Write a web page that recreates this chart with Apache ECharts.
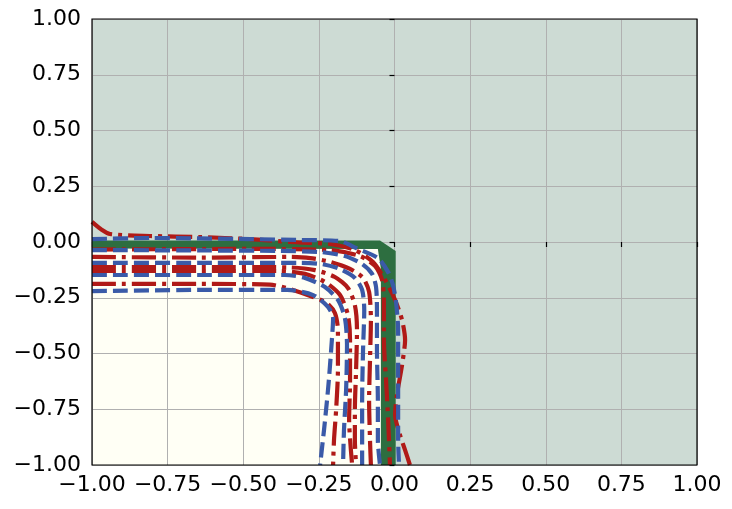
<!DOCTYPE html>
<html>
<head>
<meta charset="utf-8">
<script src="https://cdn.jsdelivr.net/npm/echarts@6/dist/echarts.min.js"></script>
<style>html,body{margin:0;padding:0;background:#fff;}#c{width:732px;height:509px;}</style>
</head>
<body>
<div id="c"></div>
<script>
// Axis ticks
const xTicks = [-1, -0.75, -0.5, -0.25, 0, 0.25, 0.5, 0.75, 1];
const yTicks = [-1, -0.75, -0.5, -0.25, 0, 0.25, 0.5, 0.75, 1];

// Filled regions (data coordinates)
const outerRegion = [[-1, -1], [1, -1], [1, 1], [-1, 1]];
const innerRegion = [[-1, -1], [-1, -0.01], [-0.05, -0.01], [0.0, -0.05], [0.0, -1]];
const greenBand = [[-1, 0.007], [-0.048, 0.007], [0.004, -0.04], [0.004, -1], [-0.045, -1], [-0.045, -0.12], [-0.055, -0.031], [-1, -0.029]];

// Contour lines (red dash-dot)
const red0 = [[-1, 0.09], [-0.971, 0.058], [-0.940, 0.036], [-0.808, 0.027], [-0.643, 0.022], [-0.478, 0.013], [-0.345, 0.0], [-0.213, -0.009], [-0.131, -0.036], [-0.071, -0.090], [-0.031, -0.170], [0.002, -0.260], [0.025, -0.350], [0.035, -0.439], [0.025, -0.551], [0.008, -0.686], [0.002, -0.776], [0.018, -0.865], [0.035, -0.933], [0.051, -1]];
const red1 = [[-1, -0.034], [-0.478, -0.031], [-0.213, -0.036], [-0.114, -0.063], [-0.064, -0.108], [-0.041, -0.170], [-0.035, -0.260], [-0.035, -0.439], [-0.028, -0.619], [-0.021, -0.798], [-0.015, -1]];
const red2 = [[-1, -0.067], [-0.643, -0.070], [-0.345, -0.067], [-0.279, -0.072], [-0.210, -0.090], [-0.147, -0.121], [-0.104, -0.161], [-0.084, -0.224], [-0.078, -0.350], [-0.081, -0.529], [-0.084, -0.709], [-0.081, -0.888], [-0.078, -1]];
const red4 = [[-1, -0.112], [-0.643, -0.112], [-0.345, -0.114], [-0.263, -0.126], [-0.197, -0.157], [-0.154, -0.206], [-0.131, -0.283], [-0.124, -0.395], [-0.127, -0.574], [-0.131, -0.753], [-0.131, -0.888], [-0.127, -1]];
const red5 = [[-1, -0.130], [-0.643, -0.130], [-0.379, -0.130], [-0.296, -0.143], [-0.230, -0.179], [-0.180, -0.238], [-0.154, -0.327], [-0.147, -0.439], [-0.147, -0.619], [-0.150, -0.798], [-0.140, -1]];
const red7 = [[-1, -0.188], [-0.643, -0.188], [-0.412, -0.191], [-0.336, -0.215], [-0.269, -0.247], [-0.223, -0.274], [-0.197, -0.318], [-0.187, -0.395], [-0.187, -0.574], [-0.193, -0.753], [-0.200, -0.888], [-0.203, -1]];

// Contour lines (blue dashed)
const blue0 = [[-1, 0.013], [-0.808, 0.018], [-0.478, 0.013], [-0.312, 0.009], [-0.180, 0.004], [-0.127, -0.027], [-0.055, -0.072], [-0.021, -0.135], [-0.005, -0.193], [0.005, -0.269], [0.012, -0.395], [0.012, -0.574], [0.012, -0.753], [0.012, -0.888], [0.015, -1]];
const blue1 = [[-1, -0.036], [-0.643, -0.038], [-0.379, -0.040], [-0.246, -0.045], [-0.164, -0.063], [-0.107, -0.099], [-0.074, -0.143], [-0.061, -0.202], [-0.058, -0.305], [-0.058, -0.484], [-0.055, -0.709], [-0.055, -0.888], [-0.048, -1]];
const blue3 = [[-1, -0.094], [-0.643, -0.094], [-0.312, -0.094], [-0.240, -0.099], [-0.180, -0.121], [-0.131, -0.161], [-0.107, -0.215], [-0.100, -0.305], [-0.104, -0.484], [-0.107, -0.709], [-0.107, -0.888], [-0.107, -1]];
const blue6 = [[-1, -0.148], [-0.643, -0.148], [-0.362, -0.148], [-0.296, -0.161], [-0.230, -0.202], [-0.187, -0.260], [-0.164, -0.341], [-0.157, -0.462], [-0.160, -0.664], [-0.167, -0.843], [-0.170, -1]];
const blue8 = [[-1, -0.220], [-0.643, -0.215], [-0.355, -0.215], [-0.269, -0.238], [-0.220, -0.291], [-0.203, -0.341], [-0.207, -0.439], [-0.217, -0.619], [-0.223, -0.709], [-0.233, -0.843], [-0.246, -1]];

const redLines = [red0, red1, red2, red4, red5, red7];
const blueLines = [blue0, blue1, blue3, blue6, blue8];

const RED = '#b01a17';
const BLUE = '#3a5aa8';
const GREEN = '#2d6e40';
const BG = '#cddbd4';
const CREAM = '#fffff5';

function polySeries(points, color, z) {
  return {
    type: 'custom', coordinateSystem: 'cartesian2d', z: z, silent: true, clip: true,
    data: [0],
    renderItem: function (params, api) {
      return { type: 'polygon', shape: { points: points.map(p => api.coord(p)) }, style: { fill: color } };
    }
  };
}
function lineSeries(data, color, dash, z) {
  return {
    type: 'line', data: data, showSymbol: false, symbol: 'none', smooth: 0.25, z: z, silent: true, clip: true,
    lineStyle: { color: color, width: 4.2, type: dash, cap: 'butt', join: 'round' }
  };
}
const fmt = v => (Math.abs(v) < 1e-9 ? 0 : v).toFixed(2).replace('-', '\u2212');
const font = { fontFamily: 'DejaVu Sans', fontSize: 22, color: '#000' };

const series = [
  polySeries(outerRegion, BG, -2),
  polySeries(innerRegion, CREAM, -1),
  polySeries(greenBand, GREEN, 3)
];
redLines.forEach(l => series.push(lineSeries(l, RED, [24, 6, 4, 6], 5)));
blueLines.forEach(l => series.push(lineSeries(l, BLUE, [15, 6], 5)));

const chart = echarts.init(document.getElementById('c'), null, { renderer: 'canvas' });
chart.setOption({
  animation: false,
  grid: { left: 92, right: 35, top: 19, bottom: 44, show: true, backgroundColor: 'transparent', borderColor: '#000', borderWidth: 1.2, z: 10 },
  xAxis: {
    type: 'value', min: -1, max: 1, interval: 0.25, z: 0,
    axisLine: { show: false },
    axisTick: { show: true, length: 5, inside: false, lineStyle: { color: '#000', width: 1.2 } },
    axisLabel: Object.assign({ margin: 9, formatter: fmt, showMinLabel: true, showMaxLabel: true }, font),
    splitLine: { show: true, lineStyle: { color: '#b0b0b0', width: 1 } }
  },
  yAxis: {
    type: 'value', min: -1, max: 1, interval: 0.25, z: 0,
    axisLine: { show: false },
    axisTick: { show: true, length: 5, inside: false, lineStyle: { color: '#000', width: 1.2 } },
    axisLabel: Object.assign({ margin: 11, formatter: fmt, showMinLabel: true, showMaxLabel: true }, font),
    splitLine: { show: true, lineStyle: { color: '#b0b0b0', width: 1 } }
  },
  series: series
});
</script>
</body>
</html>
